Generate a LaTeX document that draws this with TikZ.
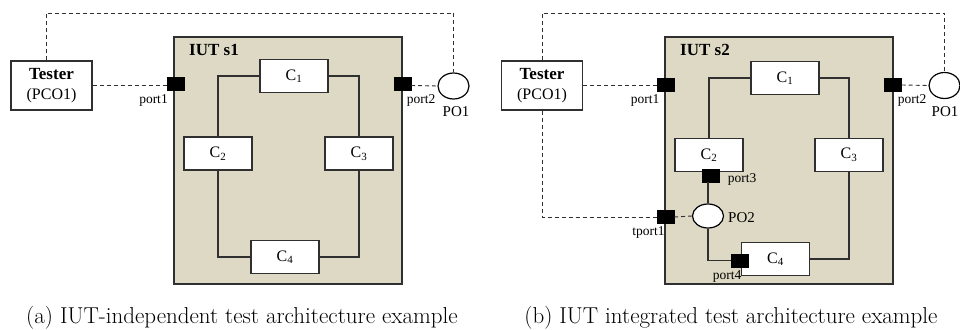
\documentclass[tikz,border=0pt]{standalone}
\usepackage{fontspec}
\newfontfamily\tnr{Liberation Serif}
\usetikzlibrary{shapes.geometric}
\definecolor{iutfill}{HTML}{DDD9C4}
\definecolor{edge}{HTML}{303030}
\tikzset{
  iutbox/.style={draw=edge, line width=1.4pt, fill=iutfill, minimum width=228pt, minimum height=247pt, inner sep=0pt},
  compbox/.style={draw=edge, line width=1.2pt, fill=white, minimum width=68pt, minimum height=33pt, inner sep=0pt, font=\tnr\fontsize{16}{18}\selectfont},
  testerbox/.style={draw=edge, line width=1.2pt, fill=white, minimum width=81pt, minimum height=49pt, inner sep=0pt, align=center, font=\tnr\fontsize{16}{19}\selectfont},
  portsq/.style={draw=black, fill=black, minimum width=17pt, minimum height=13pt, inner sep=0pt},
  obspoint/.style={ellipse, draw=black, line width=1.2pt, fill=white, minimum width=31pt, minimum height=26pt, inner sep=0pt},
  solidlink/.style={draw=edge, line width=1.4pt},
  dashlink/.style={draw=edge, line width=0.9pt, dash pattern=on 4pt off 3pt},
  plabel/.style={font=\tnr\fontsize{13.5}{15}\selectfont, inner sep=0pt},
  olabel/.style={font=\tnr\fontsize{15}{17}\selectfont, inner sep=0pt},
  ttl/.style={font=\tnr\bfseries\fontsize{17}{19}\selectfont, inner sep=0pt, anchor=west},
  capt/.style={font=\fontsize{23}{26}\selectfont, inner sep=0pt, anchor=base}
}
\newcommand{\comp}[1]{C\textsubscript{\fontsize{11}{12}\selectfont #1}}
\newcommand{\testertext}{{\bfseries\fontsize{17}{19}\selectfont Tester}\\[1pt](PCO1)}
\begin{document}
\begin{tikzpicture}[x=1pt, y=-1pt]
\useasboundingbox (0,0) rectangle (960,329);

% ---------- (a) independent test architecture ----------
\node[iutbox] (iutA) at (288,160.5) {};
\node[ttl] (ttlA) at (189,50) {IUT s1};
\node[testerbox] (testerA) at (51.5,85.5) {\testertext};

\node[compbox] (a1) at (294,76) {\comp{1}};
\node[compbox] (a2) at (218,153.5) {\comp{2}};
\node[compbox] (a3) at (359,153.5) {\comp{3}};
\node[compbox] (a4) at (285,257) {\comp{4}};

\draw[solidlink] (a1.west) -| (a2.north);
\draw[solidlink] (a1.east) -| (a3.north);
\draw[solidlink] (a2.south) |- (a4.west);
\draw[solidlink] (a3.south) |- (a4.east);

\node[portsq] (aport1) at (175.5,84) {};
\node[portsq] (aport2) at (402.5,84) {};
\node[obspoint] (apo1) at (453.5,86) {};

\coordinate (atop) at (46,13);
\draw[dashlink] (testerA.east |- 0,85.5) -- (aport1.west |- 0,85.5);
\draw[dashlink] (aport2.east |- 0,85.5) -- (apo1.west);
\draw[dashlink] (testerA.north -| atop) -- (atop) -| (apo1.north);

\node[plabel] (laport1) at (153.5,100) {port1};
\node[plabel] (laport2) at (421,100) {port2};
\node[olabel] (lapo1) at (456,111.5) {PO1};

% ---------- (b) integrated test architecture ----------
\node[iutbox] (iutB) at (779,160.5) {};
\node[ttl] (ttlB) at (680,50) {IUT s2};
\node[testerbox] (testerB) at (542,85.5) {\testertext};

\node[compbox] (b1) at (785,78) {\comp{1}};
\node[compbox] (b2) at (709,155) {\comp{2}};
\node[compbox] (b3) at (849,155) {\comp{3}};
\node[compbox] (b4) at (775.5,259) {\comp{4}};

\draw[solidlink] (b1.west) -| (b2.north);
\draw[solidlink] (b1.east) -| (b3.north);
\draw[solidlink] (b3.south) |- (b4.east);

\node[portsq] (bport1) at (666,85) {};
\node[portsq] (bport2) at (893,85) {};
\node[obspoint] (bpo1) at (944.5,85.5) {};
\node[portsq] (bport3) at (710.5,175.5) {};
\node[obspoint, minimum height=24pt] (bpo2) at (708,216) {};
\node[portsq] (btport1) at (665.5,217) {};
\node[portsq] (bport4) at (739.5,260.5) {};

\draw[solidlink] (bport3.south -| bpo2.north) -- (bpo2.north);
\draw[solidlink] (bpo2.south) |- (bport4.west);

\coordinate (btop) at (542,13);
\draw[dashlink] (testerB.east |- 0,85.3) -- (bport1.west |- 0,85.3);
\draw[dashlink] (bport2.east) -- (bpo1.west);
\draw[dashlink] (testerB.north) -- (btop) -| (bpo1.north);
\draw[dashlink] (testerB.south) |- (btport1.west);
\draw[dashlink] (btport1.east) -- (bpo2.west);

\node[plabel] (lbport1) at (645,100) {port1};
\node[plabel] (lbport2) at (912,100) {port2};
\node[olabel] (lbpo1) at (945,111.5) {PO1};
\node[plabel] (lbport3) at (742,179) {port3};
\node[olabel] (lbpo2) at (741.5,218) {PO2};
\node[plabel] (lbtport1) at (648.5,232) {tport1};
\node[plabel] (lbport4) at (727,276) {port4};

% ---------- captions ----------
\node[capt] (capA) at (242,323) {(a) IUT-independent test architecture example};
\node[capt] (capB) at (731,323) {(b) IUT integrated test architecture example};
\end{tikzpicture}
\end{document}
